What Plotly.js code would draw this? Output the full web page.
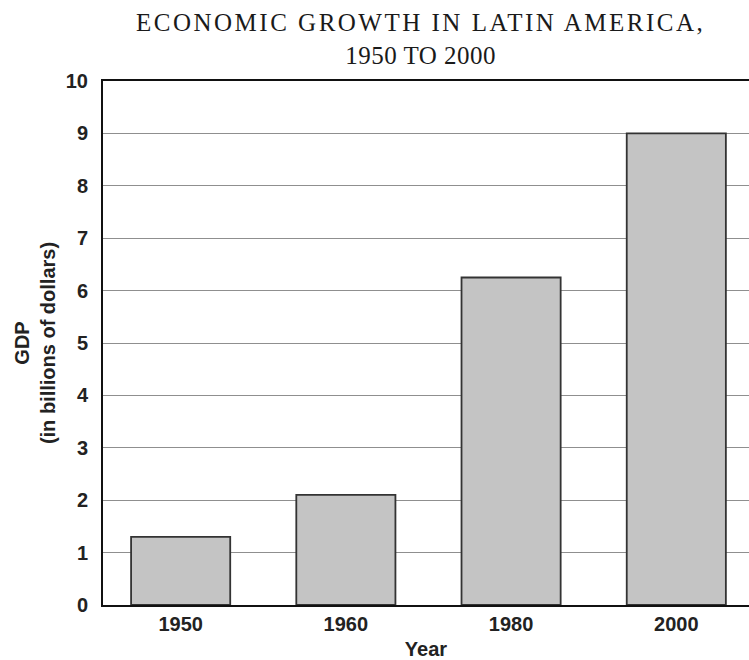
<!DOCTYPE html>
<html>
<head>
<meta charset="utf-8">
<script src="https://cdn.plot.ly/plotly-3.0.1.min.js"></script>
<style>html,body{margin:0;padding:0;background:#fff;}#chart{width:749px;height:660px;}</style>
</head>
<body>
<div id="chart"></div>
<script>
const years = ["1950", "1960", "1980", "2000"];
const gdp = [1.3, 2.1, 6.25, 9.0];
const yTicks = [0, 1, 2, 3, 4, 5, 6, 7, 8, 9, 10];
const titleLine1 = "ECONOMIC GROWTH IN LATIN AMERICA,";
const titleLine2 = "1950 TO 2000";

const trace = {
  type: "bar",
  x: years,
  y: gdp,
  marker: { color: "#c4c4c4", line: { color: "#333", width: 1.8 } },
  hoverinfo: "x+y"
};

const sans = "Liberation Sans, Arial, Helvetica, sans-serif";

const layout = {
  width: 749,
  height: 660,
  margin: { l: 103, r: 0, t: 81, b: 55 },
  paper_bgcolor: "#fff",
  plot_bgcolor: "#fff",
  showlegend: false,
  bargap: 0.4,
  annotations: [{
    text: '<span style="letter-spacing:2.5px">' + titleLine1 + '</span><br><span style="letter-spacing:0.5px">' + titleLine2 + '</span>',
    xref: "paper", yref: "paper",
    x: 0.492, y: 1.142, xanchor: "center", yanchor: "top",
    showarrow: false, align: "center",
    font: { family: "Liberation Serif, Times New Roman, serif", size: 25, color: "#1a1a1a" }
  }],
  xaxis: {
    type: "category",
    range: [-0.47, 3.44],
    showline: true, linecolor: "#111", linewidth: 2, mirror: true,
    showgrid: false, ticks: "",
    tickfont: { family: sans, size: 20, color: "#222", weight: "bold" },
    ticklabelstandoff: 0,
    title: { text: "<b>Year</b>", font: { family: sans, size: 20, color: "#222" }, standoff: 8 }
  },
  yaxis: {
    range: [0, 10],
    tickvals: yTicks,
    showline: true, linecolor: "#111", linewidth: 2,
    showgrid: true, gridcolor: "#8f8f8f", gridwidth: 1,
    zeroline: false, ticks: "",
    tickfont: { family: sans, size: 20, color: "#222", weight: "bold" },
    ticklabelstandoff: 9,
    title: { text: "<b>GDP<br>(in billions of dollars)</b>", font: { family: sans, size: 20, color: "#222" }, standoff: 5 }
  }
};

Plotly.newPlot("chart", [trace], layout, { staticPlot: true, displayModeBar: false });
</script>
</body>
</html>
